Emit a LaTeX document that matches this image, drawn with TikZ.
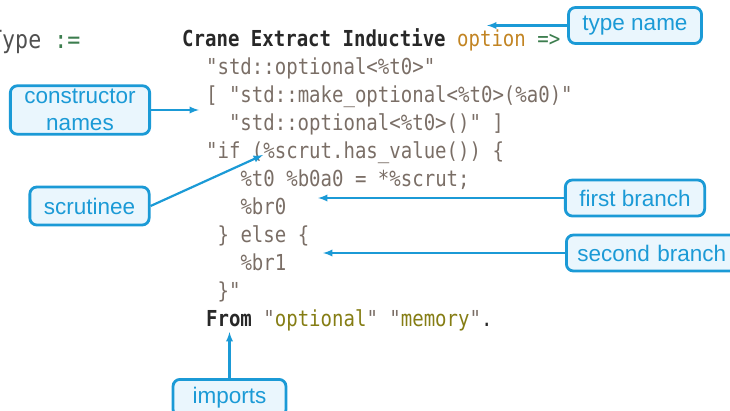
\documentclass[tikz,border=0pt]{standalone}
\usepackage{fontspec}
\usepackage{tikz}
\usetikzlibrary{arrows}

\newfontfamily\codefont[FakeStretch=0.865]{DejaVu Sans Mono}
\newfontfamily\labelfont{Liberation Sans}

\definecolor{codegray}{RGB}{122,110,102}
\definecolor{lhsgray}{RGB}{80,80,80}
\definecolor{kwdark}{RGB}{40,40,40}
\definecolor{typeorange}{RGB}{194,132,34}
\definecolor{opgreen}{RGB}{60,125,78}
\definecolor{strolive}{RGB}{133,125,20}
\definecolor{calloutblue}{RGB}{27,154,214}
\definecolor{calloutfill}{RGB}{234,246,253}

\begin{document}
\begin{tikzpicture}[x=1pt,y=-1pt,
  code/.style={anchor=base west, inner sep=0pt, text=codegray, font=\codefont\fontsize{22}{28}\selectfont},
  callout/.style={draw=calloutblue, fill=calloutfill, text=calloutblue, line width=2.8pt, rounded corners=7pt,
    inner xsep=14pt, minimum height=36pt, align=center, font=\labelfont\fontsize{22.5}{27}\selectfont},
  pointer/.style={-latex, draw=calloutblue, line width=2.2pt}]
\clip (0,0) rectangle (730,410);

\node[code, font=\codefont\fontsize{25}{30}\selectfont, text=lhsgray] (lhs) at (-11,48) {Type \textcolor{opgreen}{:=}};

\node[code] (l1) at (182,46) {\textbf{\color{kwdark}Crane Extract Inductive} \textcolor{typeorange}{option} \textcolor{opgreen}{=>}};
\node[code] (l2) at (205.9,74) {"std::optional<\%t0>"};
\node[code] (l3) at (205.9,102) {[ "std::make\_optional<\%t0>(\%a0)"};
\node[code] (l4) at (228.8,130) {"std::optional<\%t0>()" ]};
\node[code] (l5) at (205.9,158) {"if (\%scrut.has\_value()) \{};
\node[code] (l6) at (240.3,186) {\%t0 \%b0a0 = *\%scrut;};
\node[code] (l7) at (240.3,214) {\%br0};
\node[code] (l8) at (217.4,242) {\} else \{};
\node[code] (l9) at (240.3,270) {\%br1};
\node[code] (l10) at (217.4,298) {\}"};
\node[code] (l11) at (205.9,326) {\textbf{\color{kwdark}From} "\textcolor{strolive}{optional}" "\textcolor{strolive}{memory}"\textcolor{kwdark}{.}};

\node[callout] (typename) at (635,25.5) {type name};
\node[callout] (ctornames) at (80,110) {constructor\\names};
\node[callout, minimum height=38pt] (scrutinee) at (89.5,206) {scrutinee};
\node[callout] (firstbr) at (635,198) {first branch};
\node[callout, anchor=west, inner xsep=11pt, text width=160pt, align=left] (secondbr) at (565,253) {second branch};
\node[callout, anchor=north, minimum height=37pt, minimum width=113pt] (imports) at (229.5,378) {imports};

\coordinate (typetip) at (487,25.5);
\coordinate (ctortip) at (199,110);
\coordinate (scruttip) at (263,155);
\coordinate (firsttip) at (318,198);
\coordinate (secondtip) at (323,253);
\coordinate (importtip) at (229.5,332);

\draw[pointer] (typename) to (typetip);
\draw[pointer] (ctornames) to (ctortip);
\draw[pointer] (scrutinee.east) to (scruttip);
\draw[pointer] (firstbr) to (firsttip);
\draw[pointer] (secondbr.west) to (secondtip);
\draw[pointer] (imports) to (importtip);
\end{tikzpicture}
\end{document}
